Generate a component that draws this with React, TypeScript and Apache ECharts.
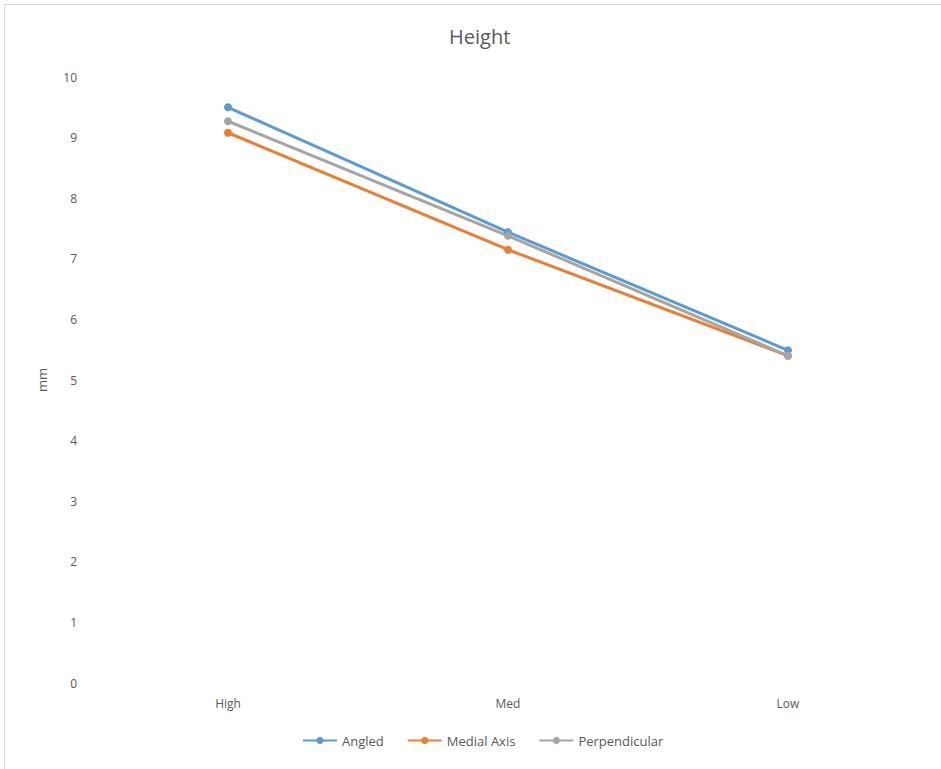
import React, { useEffect, useRef } from "react";
import * as echarts from "echarts";

const categories = ["High", "Med", "Low"];
const angled = [9.5, 7.44, 5.49];
const medialAxis = [9.08, 7.15, 5.4];
const perpendicular = [9.27, 7.38, 5.4];
const seriesNames = ["Angled", "Medial Axis", "Perpendicular"];
const colors = ["#5B9BD5", "#ED7D31", "#A5A5A5"];

export default function App() {
  const ref = useRef<HTMLDivElement>(null);
  useEffect(() => {
    if (!ref.current) return;
    const chart = echarts.init(ref.current, undefined, { renderer: "svg" });
    const data = [angled, medialAxis, perpendicular];
    const font = "'Open Sans', 'Liberation Sans', sans-serif";
    chart.setOption({
      animation: false,
      backgroundColor: "#ffffff",
      textStyle: { fontFamily: font },
      title: {
        text: "Height",
        left: 444,
        top: 21,
        textStyle: { fontSize: 20, fontWeight: "normal", color: "#595959", fontFamily: font },
      },
      graphic: [
        {
          type: "rect",
          shape: { x: 4.5, y: 4.5, width: 1000, height: 1000 },
          style: { fill: "none", stroke: "#D9D9D9", lineWidth: 1 },
          silent: true,
        },
      ],
      legend: {
        top: 729,
        left: 297,
        itemWidth: 34,
        itemHeight: 9,
        itemGap: 23,
        textStyle: { fontSize: 13, color: "#595959", fontFamily: font },
        data: seriesNames,
      },
      grid: { left: 88, right: 13, top: 77, bottom: 86 },
      xAxis: {
        type: "category",
        data: categories,
        boundaryGap: true,
        axisLine: { show: false },
        axisTick: { show: false },
        axisLabel: { color: "#595959", fontSize: 12, margin: 14 },
      },
      yAxis: {
        type: "value",
        min: 0,
        max: 10,
        interval: 1,
        name: "mm",
        nameLocation: "middle",
        nameGap: 40,
        nameTextStyle: { color: "#595959", fontSize: 13 },
        splitLine: { show: false },
        axisLine: { show: false },
        axisTick: { show: false },
        axisLabel: { color: "#595959", fontSize: 12, margin: 11 },
      },
      series: seriesNames.map((name, i) => ({
        name,
        type: "line",
        data: data[i],
        color: colors[i],
        symbol: "circle",
        symbolSize: 8,
        lineStyle: { width: 3, color: colors[i] },
        itemStyle: { color: colors[i] },
      })),
    });
    return () => chart.dispose();
  }, []);
  return (
    <div
      ref={ref}
      style={{ position: "absolute", left: 0, top: 0, width: 941, height: 769 }}
    />
  );
}
